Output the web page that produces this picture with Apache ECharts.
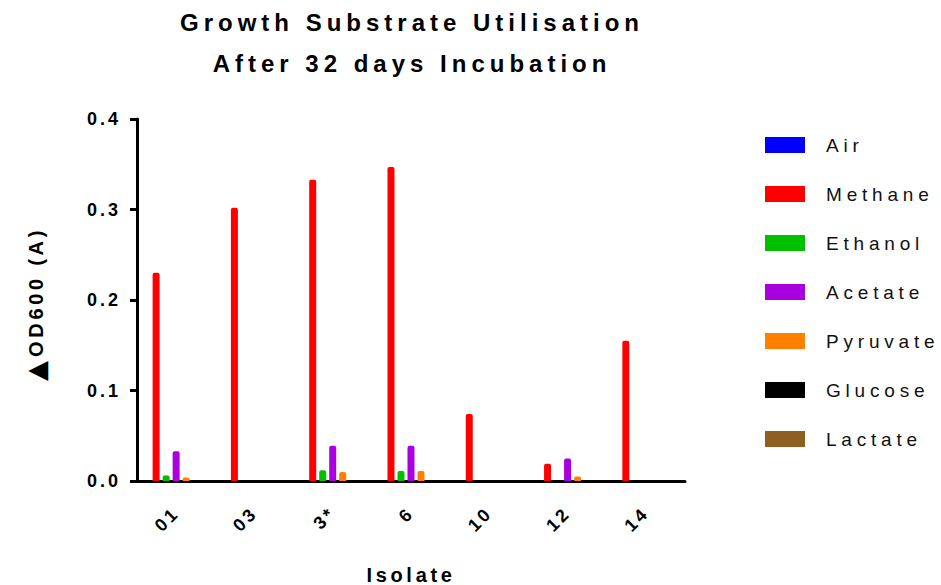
<!DOCTYPE html>
<html>
<head>
<meta charset="utf-8">
<script src="https://cdn.jsdelivr.net/npm/echarts@6/dist/echarts.min.js"></script>
<style>
html,body{margin:0;padding:0;background:#fff;}
#c{width:941px;height:585px;}
</style>
</head>
<body>
<div id="c"></div>
<script>
const categories = ['01', '03', '3*', '6', '10', '12', '14'];
const air      = [0, 0, 0, 0, 0, 0, 0];
const methane  = [0.230, 0.302, 0.333, 0.347, 0.074, 0.019, 0.155];
const ethanol  = [0.006, 0, 0.012, 0.011, 0, 0, 0];
const acetate  = [0.033, 0, 0.039, 0.039, 0, 0.025, 0];
const pyruvate = [0.004, 0, 0.010, 0.011, 0, 0.005, 0];
const glucose  = [0, 0, 0, 0, 0, 0, 0];
const lactate  = [0, 0, 0, 0, 0, 0, 0];
const seriesNames = ['Air', 'Methane', 'Ethanol', 'Acetate', 'Pyruvate', 'Glucose', 'Lactate'];
const seriesData = [air, methane, ethanol, acetate, pyruvate, glucose, lactate];
const colors = ['#0000ff', '#ff0000', '#00c000', '#aa00dd', '#ff8000', '#000000', '#8f5f22'];
const yTicks = [0, 0.1, 0.2, 0.3, 0.4];
const titleLines = ['Growth Substrate Utilisation', 'After 32 days Incubation'];

const FONT = "'Liberation Sans', Arial, sans-serif";
const chart = echarts.init(document.getElementById('c'), null, {renderer: 'svg'});

const option = {
  animation: false,
  color: colors,
  title: [
    {text: titleLines[0], left: 407, top: 5, textAlign: 'center',
     textStyle: {fontFamily: FONT, fontSize: 24, fontWeight: 'bold', color: '#000'}},
    {text: titleLines[1], left: 407, top: 46, textAlign: 'center',
     textStyle: {fontFamily: FONT, fontSize: 24, fontWeight: 'bold', color: '#000'}}
  ],
  legend: {
    orient: 'vertical', left: 765, top: 135, padding: 0,
    itemWidth: 40, itemHeight: 16, itemGap: 29,
    icon: 'rect',
    data: seriesNames,
    textStyle: {fontFamily: FONT, fontSize: 19, color: '#111', lineHeight: 20, padding: [0, 0, 0, 16]}
  },
  grid: {left: 137, right: 256, top: 119, bottom: 104, outerBoundsMode: 'none', containLabel: false},
  xAxis: {
    type: 'category', data: categories,
    name: 'Isolate', nameLocation: 'middle', nameGap: 84,
    nameTextStyle: {fontFamily: FONT, fontSize: 20, fontWeight: 'bold', color: '#000'},
    axisLine: {lineStyle: {color: '#000', width: 3}},
    axisTick: {alignWithLabel: true, length: 9, lineStyle: {color: '#000', width: 3}},
    axisLabel: {rotate: 45, margin: 29, fontFamily: FONT, fontSize: 18, fontWeight: 'bold', color: '#000'}
  },
  yAxis: {
    type: 'value', min: 0, max: 0.4, interval: 0.1,
    name: '{t|▲}{n|OD600 (A)}', nameLocation: 'middle', nameGap: 88,
    nameTextStyle: {fontFamily: FONT, fontSize: 20, fontWeight: 'bold', color: '#000',
      rich: {
        t: {fontFamily: "'DejaVu Sans', sans-serif", fontSize: 26, color: '#000', width: 24, align: 'left', verticalAlign: 'bottom'},
        n: {fontFamily: FONT, fontSize: 20, fontWeight: 'bold', color: '#000', width: 138, align: 'left'}
      }},
    axisLine: {show: true, lineStyle: {color: '#000', width: 3}},
    axisTick: {show: true, length: 7, lineStyle: {color: '#000', width: 3}},
    splitLine: {show: false},
    axisLabel: {margin: 16, fontFamily: FONT, fontSize: 18, fontWeight: 'bold', color: '#000',
      formatter: v => v.toFixed(1)}
  },
  series: seriesNames.map((n, i) => ({
    name: n, type: 'bar', data: seriesData[i],
    barWidth: 7, barGap: '43%',
    itemStyle: {color: colors[i], borderRadius: [2, 2, 0, 0]}
  }))
};
chart.setOption(option);

function spacingFor(t) {
  t = t.trim();
  if (titleLines.includes(t)) return 5.0;
  if (seriesNames.includes(t)) return 4.8;
  if (t === 'Isolate') return 3.7;
  if (t.indexOf('OD600') >= 0) return 3.7;
  if (categories.includes(t)) return 3;
  if (/^\d\.\d$/.test(t)) return 3;
  return 0;
}
function applySpacing() {
  document.querySelectorAll('#c svg text').forEach(el => {
    const s = spacingFor(el.textContent || '');
    if (s) el.setAttribute('letter-spacing', s + 'px');
  });
}
chart.on('finished', applySpacing);
applySpacing();
setTimeout(applySpacing, 50);
</script>
</body>
</html>
